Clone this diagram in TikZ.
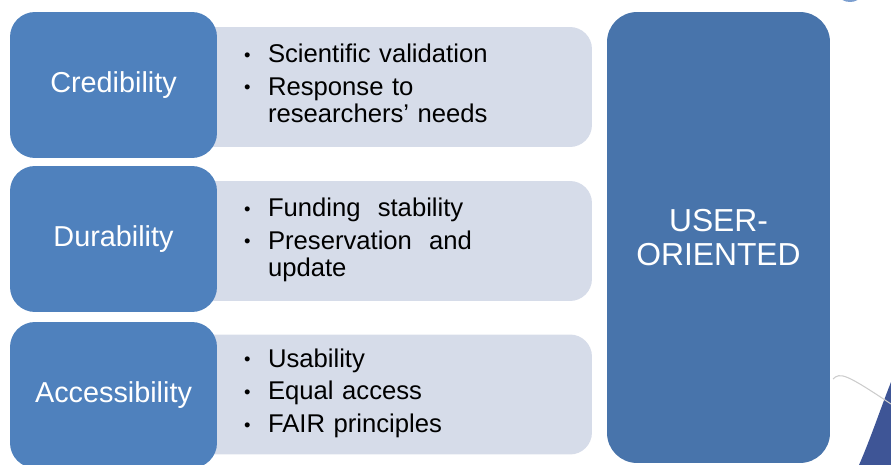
\documentclass[tikz,border=0pt]{standalone}
\usepackage{fontspec}
\setmainfont{Liberation Sans}
\usetikzlibrary{positioning}

\definecolor{pillarblue}{HTML}{4F81BD}
\definecolor{goalblue}{HTML}{4874AB}
\definecolor{detailgray}{HTML}{D6DCE9}
\definecolor{swooshnavy}{HTML}{3E5596}
\definecolor{swooshlight}{HTML}{7C9FD0}

\newcommand{\blt}{\raisebox{0.1ex}{\fontsize{10.5}{10.5}\selectfont\textbullet}}

\begin{document}
\begin{tikzpicture}[
x = 0.02cm, y = -0.02cm,
pillar/.style = {fill = pillarblue, rounded corners = 0.5cm, minimum width = 4.14cm, minimum height = 2.92cm, inner sep = 0pt, text = white, font = \fontsize{16.4}{19}\selectfont},
detail/.style = {fill = detailgray, rounded corners = 0.44cm, minimum height = 2.4cm, text width = 5.68cm, inner xsep = 1.28cm, inner ysep = 0pt, align = left, font = \fontsize{14.6}{15.6}\selectfont},
goal/.style = {fill = goalblue, rounded corners = 0.6cm, minimum width = 4.46cm, minimum height = 9.02cm, inner sep = 0pt, text = white, align = center, font = \fontsize{18.1}{19.8}\selectfont},
]
\useasboundingbox (0, 0) rectangle (891, 465);

% background swoosh
\begin{scope}
\clip (0, 0) rectangle (891, 465);
\fill[swooshlight] (850, -4) ellipse [x radius = 10, y radius = 6];
\fill[swooshnavy] (891, 382) .. controls (880, 410) and (870, 440) .. (859, 465) -- (891, 465) -- cycle;
\draw[black!20, line width = 0.6pt] (833, 379) .. controls (840, 372) and (846, 374) .. (891, 404);
\end{scope}

\node[detail] (credlist) at (386, 87) {\begin{tabular}{@{}p{0.48cm}@{}l@{}}
\blt & Scientific validation\\[3pt]
\blt & Response to\\
& researchers' needs
\end{tabular}};
\node[detail] (durlist) at (386, 241) {\begin{tabular}{@{}p{0.48cm}@{}l@{}}
\blt & Funding\ \ stability\\[3pt]
\blt & Preservation\ \ and\\
& update
\end{tabular}};
\node[detail] (acclist) at (386, 394.5) {\begin{tabular}{@{}p{0.48cm}@{}l@{}}
\blt & Usability\\[3pt]
\blt & Equal access\\[3pt]
\blt & FAIR principles
\end{tabular}};

\node[pillar] (cred) at (113.5, 85) {Credibility};
\node[pillar] (dur) at (113.5, 239) {Durability};
\node[pillar] (acc) at (113.5, 395) {Accessibility};

\node[goal] (user) at (718.5, 237.5) {USER-\\ORIENTED};
\end{tikzpicture}
\end{document}
